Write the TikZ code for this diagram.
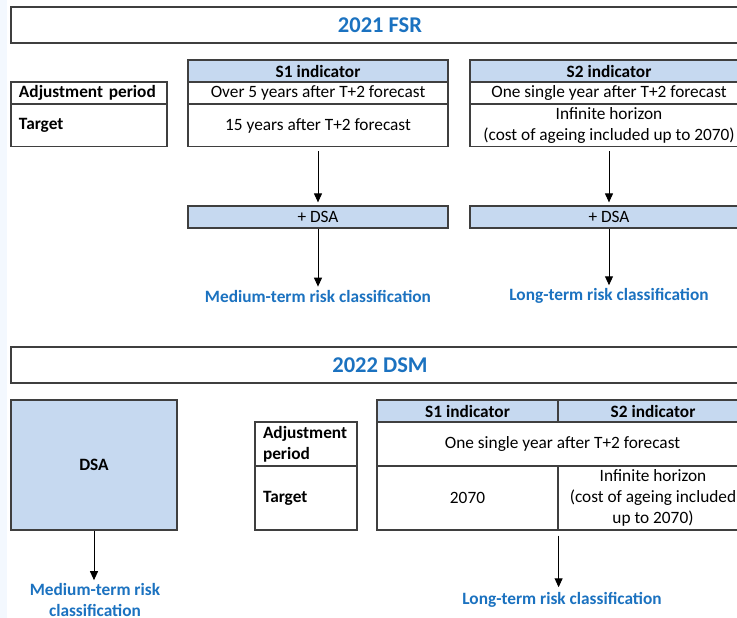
\documentclass[tikz,border=0pt]{standalone}
\usepackage{fontspec}
\setmainfont{Carlito}
\usetikzlibrary{arrows.meta}
\definecolor{cellblue}{HTML}{C6D9F0}
\definecolor{titleblue}{HTML}{1B72C0}
\definecolor{linegray}{HTML}{3F3F3F}
\definecolor{stripblue}{HTML}{F3F8FE}
\begin{document}
\begin{tikzpicture}[x=1pt,y=-1pt,
  every node/.style={font=\fontsize{17.3}{21}\selectfont},
  cell/.style={draw=linegray, line width=1.2pt, inner xsep=8pt, inner ysep=1pt, align=center},
  headcell/.style={cell, fill=cellblue, font=\fontsize{17.3}{21}\selectfont\bfseries},
  labcell/.style={cell, align=left, font=\fontsize{17.3}{21}\selectfont\bfseries},
  titlebox/.style={draw=linegray, line width=1.4pt, font=\fontsize{22.5}{26}\selectfont\bfseries, text=titleblue},
  risk/.style={inner sep=0pt, align=center, text=titleblue, font=\fontsize{17.3}{21}\selectfont\bfseries},
  arr/.style={draw=black, line width=1pt, -{Triangle[length=9pt,width=8pt]}}
]
\useasboundingbox (0,0) rectangle (737,618);
\clip (0,0) rectangle (737,618);
\fill[white] (0,0) rectangle (737,618);
\fill[stripblue] (0,0) rectangle (7,618);

% ---------- 2021 FSR ----------
\node[titlebox, minimum width=738pt, minimum height=36pt] (h1) at (380,25) {2021 FSR};

\node[labcell, text width=140pt, minimum height=22pt] (la1) at (89,93) {Adjustment period};
\node[labcell, text width=140pt, minimum height=42pt] (lb1) at (89,125.5) {Target};

\node[headcell, minimum width=260pt, minimum height=22pt] (s1h) at (318,71) {S1 indicator};
\node[cell, minimum width=260pt, minimum height=22pt] (s1a) at (318,93) {Over 5 years after T+2 forecast};
\node[cell, minimum width=260pt, minimum height=42pt] (s1b) at (318,125.5) {15 years after T+2 forecast};

\node[headcell, minimum width=278pt, minimum height=22pt] (s2h) at (609,71) {S2 indicator};
\node[cell, minimum width=278pt, minimum height=22pt] (s2a) at (609,93) {One single year after T+2 forecast};
\node[cell, minimum width=278pt, minimum height=42pt] (s2b) at (609,125.5) {Infinite horizon\\(cost of ageing included up to 2070)};

\node[cell, fill=cellblue, minimum width=260pt, minimum height=22pt] (d1) at (318,217) {+ DSA};
\node[cell, fill=cellblue, minimum width=278pt, minimum height=22pt] (d2) at (609,217) {+ DSA};

\node[risk] (m1) at (318,296) {Medium-term risk classification};
\node[risk] (l1) at (609,296) {Long-term risk classification};

\draw[arr, shorten <=4pt, shorten >=3pt] (s1b.south) -- (d1.north);
\draw[arr, shorten <=4pt, shorten >=3pt] (s2b.south) -- (d2.north);
\draw[arr, shorten >=3pt] (d1.south) -- (m1.north);
\draw[arr, shorten >=3pt] (d2.south) -- (l1.north);

% ---------- 2022 DSM ----------
\node[titlebox, minimum width=738pt, minimum height=36pt] (h2) at (380,365) {2022 DSM};

\node[cell, fill=cellblue, minimum width=166pt, minimum height=130pt, font=\fontsize{17.3}{21}\selectfont\bfseries] (dsa) at (94,465) {DSA};
\node[risk] (m2) at (95,600) {Medium-term risk\\classification};
\draw[arr, shorten >=3pt] (dsa.south) -- (dsa.south |- m2.north);

\node[labcell, text width=86pt, minimum height=44pt] (la2) at (306,444) {Adjustment\\period};
\node[labcell, text width=86pt, minimum height=64pt] (lb2) at (306,498) {Target};

\node[headcell, minimum width=181pt, minimum height=22pt] (t1h) at (467.5,411) {S1 indicator};
\node[headcell, minimum width=190pt, minimum height=22pt] (t2h) at (653,411) {S2 indicator};
\node[cell, minimum width=371pt, minimum height=44pt] (ta) at (562.5,444) {One single year after T+2 forecast};
\node[cell, minimum width=181pt, minimum height=64pt] (tb1) at (467.5,498) {2070};
\node[cell, minimum width=190pt, minimum height=64pt] (tb2) at (653,498) {Infinite horizon\\(cost of ageing included\\up to 2070)};

\node[risk] (l2) at (562,600) {Long-term risk classification};
\draw[arr, shorten <=5pt, shorten >=5pt] (tb1.south east) -- (tb1.south east |- l2.north);
\end{tikzpicture}
\end{document}
